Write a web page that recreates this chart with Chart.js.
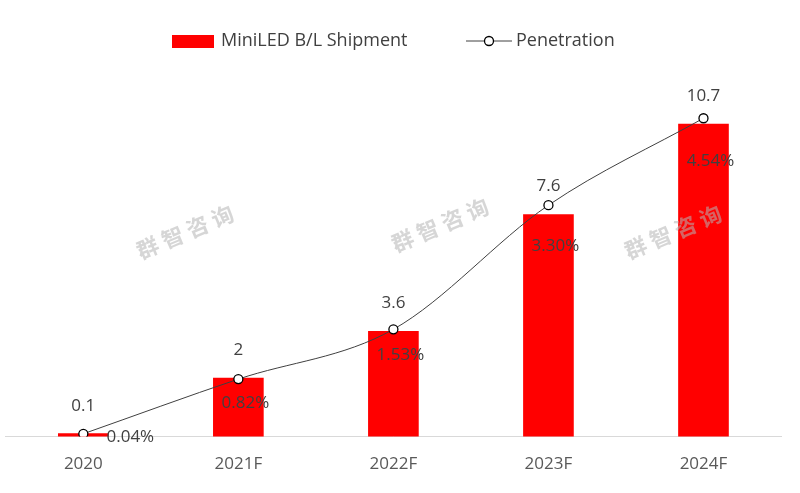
<!DOCTYPE html>
<html><head><meta charset="utf-8">
<script src="https://cdn.jsdelivr.net/npm/chart.js@4"></script>
<style>html,body{margin:0;background:#fff}#w{width:800px;height:493px}</style>
</head><body><div id="w"><canvas id="c"></canvas></div>
<script>
const categories=["2020","2021F","2022F","2023F","2024F"];
const shipment=[0.1,2,3.6,7.6,10.7];
const penetration=[0.04,0.82,1.53,3.30,4.54];
const penLabels=["0.04%","0.82%","1.53%","3.30%","4.54%"];
const font="'Open Sans','Noto Sans CJK SC',sans-serif";
const labelsPlugin={id:'lbl',afterDatasetsDraw(ch){
  const c=ch.ctx;c.save();c.font="17px "+font;c.fillStyle="#404040";c.textAlign="center";c.textBaseline="middle";
  ch.getDatasetMeta(0).data.forEach((b,i)=>{c.fillText(String(shipment[i]),b.x,b.y-28);});
  ch.getDatasetMeta(1).data.forEach((p,i)=>{const dx=i==0?47:7;const dy=i==0?3:i==1?24:i==2?26:i==3?41:43;c.fillText(penLabels[i],p.x+dx,p.y+dy);});
  // legend
  c.fillStyle='#ff0000';c.fillRect(172,35,42,13);
  c.fillStyle='#404040';c.font="18px "+font;c.textAlign='left';
  c.fillText('MiniLED B/L Shipment',221,41);
  c.strokeStyle='#404040';c.lineWidth=1;c.beginPath();c.moveTo(466,41);c.lineTo(512,41);c.stroke();
  c.beginPath();c.arc(489,41,4.5,0,Math.PI*2);c.fillStyle='#fff';c.fill();c.strokeStyle='#000';c.lineWidth=1.3;c.stroke();
  c.fillStyle='#404040';c.fillText('Penetration',516,41);
  c.restore();}};
const wmPlugin={id:'wm',afterDatasetsDraw(ch){
  const c=ch.ctx;c.save();c.font="bold 22px 'Noto Sans CJK SC'";c.fillStyle="rgba(180,180,180,0.55)";c.textAlign="center";c.textBaseline="middle";
  [[185,232],[440,225],[673,232]].forEach(([x,y])=>{c.save();c.translate(x,y);c.rotate(-0.4);c.fillText("群 智 咨 询",0,0);c.restore();});
  c.restore();}};
new Chart(document.getElementById('c'),{
 data:{labels:categories,datasets:[
  {type:'bar',label:'MiniLED B/L Shipment',data:shipment,backgroundColor:'#ff0000',barThickness:50,yAxisID:'y',order:2},
  {type:'line',label:'Penetration',data:penetration,yAxisID:'y1',borderColor:'#404040',borderWidth:1,tension:0.4,cubicInterpolationMode:'monotone',
   pointRadius:4.5,pointBackgroundColor:'#fff',pointBorderColor:'#000',pointBorderWidth:1.3,order:1}]},
 options:{responsive:true,maintainAspectRatio:false,animation:false,
  layout:{padding:{left:5,right:19,top:86,bottom:10}},
  plugins:{tooltip:{enabled:false},legend:{display:false}},
  scales:{
   x:{grid:{display:false},border:{color:'#d9d9d9'},ticks:{color:'#595959',font:{size:17,family:font},padding:9}},
   y:{min:0,max:12,display:false},
   y1:{min:0,max:5,display:false}}},
 plugins:[labelsPlugin,wmPlugin]});
</script></body></html>
